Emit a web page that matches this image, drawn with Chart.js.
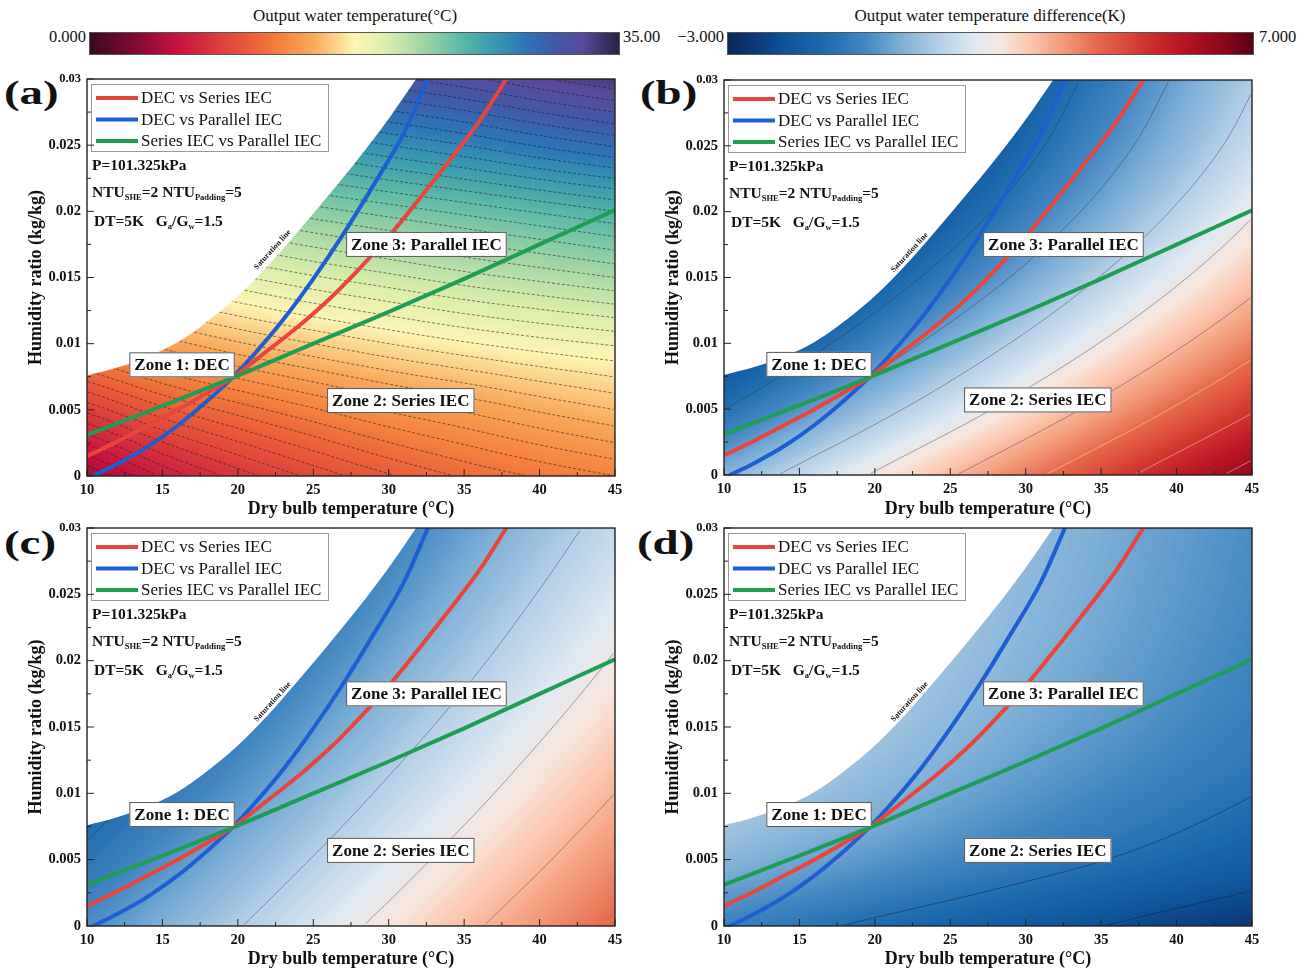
<!DOCTYPE html>
<html>
<head>
<meta charset="utf-8">
<title>IEC zone maps</title>
<script src="https://cdn.jsdelivr.net/npm/chart.js@4.4.1/dist/chart.umd.min.js"></script>
<style>
body { margin: 0; background: #fff; width: 1313px; height: 973px; position: relative; overflow: hidden; font-family: 'Liberation Serif', 'Times New Roman', serif; color: #111; }
canvas { position: absolute; }
.cbar { position: absolute; height: 23px; border: 1px solid #555; box-sizing: border-box; }
.cbtitle { position: absolute; width: 440px; text-align: center; font-size: 17px; top: 6px; }
.cblab { position: absolute; font-size: 16.5px; top: 27px; }
.plab { position: absolute; font-weight: bold; font-size: 34px; line-height: 1; transform: scaleX(1.38); transform-origin: left top; }
</style>
</head>
<body>
<div class="cbtitle" style="left:135px">Output water temperature(°C)</div>
<div class="cbar" id="barTemp" style="left:89px;top:32px;width:531px"></div>
<div class="cblab" style="left:10px;width:76px;text-align:right">0.000</div>
<div class="cblab" style="left:623px">35.00</div>

<div class="cbtitle" style="left:770px">Output water temperature difference(K)</div>
<div class="cbar" id="barDiff" style="left:727px;top:32px;width:527px"></div>
<div class="cblab" style="left:650px;width:74px;text-align:right">−3.000</div>
<div class="cblab" style="left:1259px">7.000</div>

<div class="plab" style="left:4px;top:76px">(a)</div>
<div class="plab" style="left:640px;top:76px">(b)</div>
<div class="plab" style="left:4px;top:526px">(c)</div>
<div class="plab" style="left:637px;top:526px">(d)</div>

<canvas id="chartA" width="650" height="470" style="left:0;top:60px"></canvas>
<canvas id="chartB" width="650" height="470" style="left:650px;top:60px"></canvas>
<canvas id="chartC" width="650" height="470" style="left:0;top:510px"></canvas>
<canvas id="chartD" width="650" height="470" style="left:650px;top:510px"></canvas>

<script>
// grid of the colour fields: dry bulb temperature (columns) x humidity ratio (rows)
const temps = [10, 15, 20, 25, 30, 35, 40, 45];
const hums = [0, 0.005, 0.01, 0.015, 0.02, 0.025, 0.03];

// (a) output water temperature, degC
const fieldA = [
    [4.2, 6.4, 8.0, 9.3, 10.4, 11.3, 12.0, 12.6],
    [8.6, 10.3, 11.5, 12.5, 13.4, 14.1, 14.8, 15.4],
    [13.0, 14.3, 15.3, 16.1, 16.8, 17.4, 17.9, 18.3],
    [17.2, 18.1, 18.8, 19.5, 20.1, 20.7, 21.2, 21.7],
    [21.0, 21.6, 22.2, 22.8, 23.4, 24.0, 24.6, 25.2],
    [25.0, 25.5, 26.0, 26.6, 27.3, 28.0, 28.8, 29.5],
    [29.0, 29.5, 30.0, 30.6, 31.3, 32.0, 32.8, 33.5],
];
// (b), (c), (d) output water temperature difference, K
const fieldB = [
    [0.39, 1.24, 2.08, 2.93, 3.78, 4.63, 5.47, 6.32],
    [-1.01, -0.16, 0.69, 1.53, 2.38, 3.23, 4.08, 4.92],
    [-2.21, -1.36, -0.51, 0.34, 1.18, 2.03, 2.88, 3.73],
    [-3.2, -2.36, -1.51, -0.66, 0.18, 1.03, 1.88, 2.73],
    [-4.0, -3.16, -2.31, -1.46, -0.61, 0.23, 1.08, 1.93],
    [-4.6, -3.75, -2.91, -2.06, -1.21, -0.36, 0.48, 1.33],
    [-5.0, -4.15, -3.31, -2.46, -1.61, -0.76, 0.08, 0.93],
];
const fieldC = [
    [-0.29, 0.34, 0.96, 1.59, 2.21, 2.84, 3.46, 4.09],
    [-0.85, -0.23, 0.40, 1.03, 1.65, 2.28, 2.90, 3.53],
    [-1.38, -0.75, -0.13, 0.50, 1.13, 1.75, 2.38, 3.00],
    [-1.86, -1.24, -0.61, 0.01, 0.64, 1.26, 1.89, 2.51],
    [-2.31, -1.69, -1.06, -0.44, 0.19, 0.81, 1.44, 2.06],
    [-2.73, -2.10, -1.48, -0.85, -0.23, 0.40, 1.03, 1.65],
    [-3.10, -2.48, -1.85, -1.23, -0.60, 0.03, 0.65, 1.28],
];
const fieldD = [
    [-0.55, -0.84, -1.13, -1.41, -1.70, -1.99, -2.28, -2.56],
    [0.45, 0.17, -0.12, -0.41, -0.70, -0.98, -1.27, -1.56],
    [1.03, 0.74, 0.45, 0.17, -0.12, -0.41, -0.70, -0.98],
    [1.36, 1.07, 0.79, 0.50, 0.21, -0.07, -0.36, -0.65],
    [1.55, 1.26, 0.98, 0.69, 0.40, 0.11, -0.17, -0.46],
    [1.66, 1.37, 1.09, 0.80, 0.51, 0.22, -0.06, -0.35],
    [1.72, 1.43, 1.14, 0.86, 0.57, 0.28, 0.00, -0.29],
];

// boundary curves
const satT = [10, 12, 14, 16, 18, 20, 22, 24, 26, 28, 30, 32];
const satW = [0.0076, 0.0082, 0.0090, 0.0101, 0.0117, 0.0136, 0.0159, 0.0185, 0.0212, 0.0240, 0.0270, 0.0303];
const redT = [10, 12, 14, 16, 18, 19.6, 22, 24, 26, 28, 30, 32, 34, 36, 37.8];
const redW = [0.0015, 0.0026, 0.0038, 0.0050, 0.0063, 0.0074, 0.0095, 0.0113, 0.0133, 0.0156, 0.0181, 0.0209, 0.0238, 0.0268, 0.0300];
const blueT = [10.4, 12, 14, 16, 18, 19.6, 21, 23, 25, 27, 29, 31, 32.6];
const blueW = [0, 0.0009, 0.0022, 0.0038, 0.0057, 0.0074, 0.0091, 0.0118, 0.0149, 0.0183, 0.0220, 0.0259, 0.0300];
const greenT = [10, 15, 19.6, 25, 30, 35, 40, 45];
const greenW = [0.0031, 0.0053, 0.0074, 0.0100, 0.0124, 0.0149, 0.0175, 0.0201];

const yTickLabels = ['0', '0.005', '0.01', '0.015', '0.02', '0.025', '0.03'];
const zoneNames = ['Zone 1: DEC', 'Zone 2: Series IEC', 'Zone 3: Parallel IEC'];

const tempStops = [
    [0.00, '#3a0a22'], [0.08, '#7c0a32'], [0.16, '#c4103e'], [0.23, '#d9363c'],
    [0.30, '#e95c3a'], [0.36, '#f5823e'], [0.42, '#f9a85a'], [0.47, '#fcd690'],
    [0.50, '#fdf5b4'], [0.56, '#dbeeab'], [0.63, '#a0d5a4'], [0.70, '#5db9a8'],
    [0.76, '#3a9bae'], [0.82, '#2d76b8'], [0.88, '#4159a8'], [0.93, '#5a4a9b'], [1.00, '#282246'],
];
const diffStops = [
    [0.00, '#08285a'], [0.05, '#0b3a78'], [0.11, '#0f5399'], [0.18, '#1c69ad'],
    [0.26, '#4286c0'], [0.33, '#7cafd6'], [0.40, '#b2cfe7'], [0.47, '#dfe9f3'],
    [0.52, '#f8e6de'], [0.57, '#fbc9b0'], [0.63, '#f4a080'], [0.70, '#e76b4e'],
    [0.78, '#d43c31'], [0.86, '#bb1523'], [0.94, '#8f081c'], [1.00, '#5a0013'],
];

const RED = '#e8453c', BLUE = '#1d5fd1', GREEN = '#1f9d55';
const SERIF = '"Liberation Serif", "Times New Roman", serif';

function gradientCss(stops) {
    return 'linear-gradient(to right, ' + stops.map(s => s[1] + ' ' + (s[0] * 100) + '%').join(', ') + ')';
}
document.getElementById('barTemp').style.background = gradientCss(tempStops);
document.getElementById('barDiff').style.background = gradientCss(diffStops);

function hexRgb(h) {
    return [parseInt(h.slice(1, 3), 16), parseInt(h.slice(3, 5), 16), parseInt(h.slice(5, 7), 16)];
}
function makeLut(stops) {
    const lut = new Uint8ClampedArray(256 * 3);
    for (let i = 0; i < 256; i++) {
        const f = i / 255;
        let k = 0;
        while (k < stops.length - 2 && f > stops[k + 1][0]) k++;
        const c0 = hexRgb(stops[k][1]), c1 = hexRgb(stops[k + 1][1]);
        const u = Math.max(0, Math.min(1, (f - stops[k][0]) / (stops[k + 1][0] - stops[k][0])));
        for (let c = 0; c < 3; c++) lut[i * 3 + c] = c0[c] + (c1[c] - c0[c]) * u;
    }
    return lut;
}

function cellPos(arr, v) {
    let i = 0;
    while (i < arr.length - 2 && v > arr[i + 1]) i++;
    const f = (v - arr[i]) / (arr[i + 1] - arr[i]);
    return [i, Math.max(0, Math.min(1, f))];
}
// Catmull-Rom between p1 and p2
function cr(p0, p1, p2, p3, t) {
    return 0.5 * (2 * p1 + (p2 - p0) * t + (2 * p0 - 5 * p1 + 4 * p2 - p3) * t * t + (3 * p1 - p0 - 3 * p2 + p3) * t * t * t);
}
function at(arr, k) {
    const n = arr.length;
    if (k < 0) return 2 * arr[0] - arr[1];
    if (k >= n) return 2 * arr[n - 1] - arr[n - 2];
    return arr[k];
}
function sampleGrid(grid, t, h) {
    const [i, fx] = cellPos(temps, t);
    const [j, fy] = cellPos(hums, h);
    const col = [];
    for (let k = j - 1; k <= j + 2; k++) {
        col.push(k < 0 || k >= grid.length ? null : cr(at(grid[k], i - 1), grid[k][i], grid[k][i + 1], at(grid[k], i + 2), fx));
    }
    if (col[0] === null) col[0] = 2 * col[1] - col[2];
    if (col[3] === null) col[3] = 2 * col[2] - col[1];
    return cr(col[0], col[1], col[2], col[3], fy);
}
function interp(xs, ys, v) {
    const [i, f] = cellPos(xs, v);
    return ys[i] + (ys[i + 1] - ys[i]) * f;
}
function pts(xs, ys) {
    return xs.map((v, i) => ({ x: v, y: ys[i] }));
}
function levelsFrom(start, stop, step) {
    const out = [];
    for (let v = start; v <= stop + 1e-9; v += step) out.push(+v.toFixed(2));
    return out;
}

const panels = [
    { el: 'chartA', pad: { left: 22, top: 19, right: 35, bottom: 6 }, xh: 48, grid: fieldA, stops: tempStops, min: 0, max: 35,
      levels: levelsFrom(4.9, 33.6, 0.7), dash: [3, 2], lineWidth: 0.8, lineColor: 'rgba(25,25,25,0.72)', lightFrom: 99,
      satLabel: [22.3, 0.0171] },
    { el: 'chartB', pad: { left: 9, top: 20, right: 48, bottom: 6 }, xh: 49, grid: fieldB, stops: diffStops, min: -3, max: 7,
      levels: [-1, 0, 1, 2, 3, 4, 5, 6], dash: [], lineWidth: 0.6, lineColor: 'rgba(45,45,45,0.7)', lightColor: 'rgba(255,236,230,0.8)', lightFrom: 4,
      satLabel: [22.3, 0.0169] },
    { el: 'chartC', pad: { left: 22, top: 18, right: 35, bottom: 6 }, xh: 48, grid: fieldC, stops: diffStops, min: -3, max: 7,
      levels: [-1, 1, 2, 3], dash: [], lineWidth: 0.6, lineColor: 'rgba(45,45,45,0.7)', lightFrom: 99,
      satLabel: [22.3, 0.0169] },
    { el: 'chartD', pad: { left: 9, top: 18, right: 48, bottom: 6 }, xh: 48, grid: fieldD, stops: diffStops, min: -3, max: 7,
      levels: [-2, -1], dash: [], lineWidth: 0.7, lineColor: 'rgba(20,30,60,0.7)', lightFrom: 99,
      satLabel: [22.3, 0.0169] },
];
// zone label anchors (dry bulb, humidity)
const zoneAnchor = [[16.3, 0.0084], [30.8, 0.0057], [32.5, 0.0175]];

function drawField(chart, pn) {
    const { ctx, chartArea: a, scales: { x, y } } = chart;
    const w = Math.round(a.right - a.left), h = Math.round(a.bottom - a.top);
    const lut = makeLut(pn.stops);
    const off = document.createElement('canvas');
    off.width = w; off.height = h;
    const octx = off.getContext('2d');
    const img = octx.createImageData(w, h);
    const vals = new Float32Array(w * h);
    const tv = [], hv = [];
    for (let i = 0; i < w; i++) tv.push(x.getValueForPixel(a.left + i + 0.5));
    for (let j = 0; j < h; j++) hv.push(y.getValueForPixel(a.top + j + 0.5));
    for (let j = 0; j < h; j++) {
        for (let i = 0; i < w; i++) {
            const v = sampleGrid(pn.grid, tv[i], hv[j]);
            vals[j * w + i] = v;
            const f = Math.max(0, Math.min(1, (v - pn.min) / (pn.max - pn.min)));
            const k = Math.round(f * 255) * 3, o = (j * w + i) * 4;
            img.data[o] = lut[k]; img.data[o + 1] = lut[k + 1]; img.data[o + 2] = lut[k + 2]; img.data[o + 3] = 255;
        }
    }
    octx.putImageData(img, 0, 0);
    ctx.drawImage(off, a.left, a.top);

    // iso-lines traced column by column on the sampled field
    ctx.save();
    ctx.beginPath();
    ctx.rect(a.left, a.top, a.right - a.left, a.bottom - a.top);
    ctx.clip();
    ctx.lineWidth = pn.lineWidth;
    ctx.setLineDash(pn.dash);
    for (const lv of pn.levels) {
        ctx.strokeStyle = lv >= pn.lightFrom ? pn.lightColor : pn.lineColor;
        ctx.beginPath();
        let pen = false;
        for (let i = 0; i < w; i += 2) {
            let py = null;
            for (let j = h - 1; j > 0; j--) {
                const d0 = vals[j * w + i] - lv, d1 = vals[(j - 1) * w + i] - lv;
                if (d0 === 0 || d0 * d1 < 0) { py = a.top + j + 0.5 - d0 / (d0 - d1); break; }
            }
            if (py === null) { pen = false; continue; }
            const px = a.left + i + 0.5;
            if (pen) ctx.lineTo(px, py); else { ctx.moveTo(px, py); pen = true; }
        }
        ctx.stroke();
    }
    ctx.restore();
}

function drawRich(ctx, x0, y0, parts) {
    let cx = x0;
    for (const p of parts) {
        ctx.font = p.sub ? 'bold 8.5px ' + SERIF : 'bold 15.5px ' + SERIF;
        ctx.fillText(p.t, cx, p.sub ? y0 + 5 : y0);
        cx += ctx.measureText(p.t).width;
    }
}

function drawAnnotations(chart, pn) {
    const { ctx, chartArea: a, scales: { x, y } } = chart;
    ctx.save();
    ctx.fillStyle = '#111';
    ctx.textBaseline = 'middle';

    // saturation line label along the curve
    const t0 = pn.satLabel[0];
    const x1 = x.getPixelForValue(t0 - 1), y1 = y.getPixelForValue(interp(satT, satW, t0 - 1));
    const x2 = x.getPixelForValue(t0 + 1), y2 = y.getPixelForValue(interp(satT, satW, t0 + 1));
    ctx.save();
    ctx.translate(x.getPixelForValue(t0), y.getPixelForValue(pn.satLabel[1]));
    ctx.rotate(Math.atan2(y2 - y1, x2 - x1));
    ctx.font = 'bold 8px ' + SERIF;
    ctx.textAlign = 'center';
    ctx.fillText('Saturation line', 0, 0);
    ctx.restore();

    // zone boxes
    ctx.font = 'bold 17px ' + SERIF;
    ctx.textAlign = 'center';
    zoneNames.forEach((name, k) => {
        const cx = x.getPixelForValue(zoneAnchor[k][0]), cy = y.getPixelForValue(zoneAnchor[k][1]);
        const tw = ctx.measureText(name).width + 10;
        ctx.fillStyle = '#fff';
        ctx.fillRect(cx - tw / 2, cy - 12.5, tw, 25);
        ctx.strokeStyle = '#555';
        ctx.lineWidth = 1;
        ctx.strokeRect(cx - tw / 2 + 0.5, cy - 12, tw - 1, 24);
        ctx.fillStyle = '#111';
        ctx.fillText(name, cx, cy + 1);
    });

    // legend
    const lx = a.left + 4, ly = a.top + 5;
    ctx.fillStyle = '#fff';
    ctx.fillRect(lx, ly, 237, 67);
    ctx.strokeStyle = '#999';
    ctx.strokeRect(lx + 0.5, ly + 0.5, 237, 67);
    ctx.textAlign = 'left';
    ctx.font = '17px ' + SERIF;
    chart.data.datasets.slice(0, 3).forEach((ds, k) => {
        const yy = ly + 14 + k * 21.5;
        ctx.strokeStyle = ds.borderColor;
        ctx.lineWidth = 4;
        ctx.beginPath();
        ctx.moveTo(lx + 5, yy);
        ctx.lineTo(lx + 47, yy);
        ctx.stroke();
        ctx.fillStyle = '#111';
        ctx.fillText(ds.label, lx + 50, yy + 1);
    });

    // operating conditions
    ctx.fillStyle = '#111';
    const px = a.left + 5;
    drawRich(ctx, px, a.top + 87, [{ t: 'P=101.325kPa' }]);
    drawRich(ctx, px, a.top + 114, [{ t: 'NTU' }, { t: 'SHE', sub: true }, { t: '=2 NTU' }, { t: 'Padding', sub: true }, { t: '=5' }]);
    drawRich(ctx, px + 2, a.top + 143, [{ t: 'DT=5K   G' }, { t: 'a', sub: true }, { t: '/G' }, { t: 'w', sub: true }, { t: '=1.5' }]);
    ctx.restore();
}

function drawFrame(chart) {
    const { ctx, chartArea: a, scales: { x, y } } = chart;
    ctx.save();
    ctx.strokeStyle = '#222';
    ctx.lineWidth = 1;
    for (let k = 0; k <= 14; k++) {
        const px = x.getPixelForValue(10 + k * 2.5), len = k % 2 ? 4 : 7;
        ctx.beginPath(); ctx.moveTo(px, a.bottom); ctx.lineTo(px, a.bottom - len); ctx.stroke();
    }
    for (let k = 0; k <= 12; k++) {
        const py = y.getPixelForValue(k * 0.0025), len = k % 2 ? 4 : 7;
        ctx.beginPath(); ctx.moveTo(a.left, py); ctx.lineTo(a.left + len, py); ctx.stroke();
    }
    ctx.lineWidth = 1.4;
    ctx.strokeRect(a.left, a.top, a.right - a.left, a.bottom - a.top);
    ctx.restore();
}

panels.forEach(pn => {
    const line = (label, xs, ys, color, order) => ({
        label, data: pts(xs, ys), borderColor: color, borderWidth: 4, pointRadius: 0,
        cubicInterpolationMode: 'monotone', fill: false, order,
    });
    new Chart(document.getElementById(pn.el), {
        type: 'line',
        data: {
            datasets: [
                line('DEC vs Series IEC', redT, redW, RED, 1),
                line('DEC vs Parallel IEC', blueT, blueW, BLUE, 2),
                line('Series IEC vs Parallel IEC', greenT, greenW, GREEN, 0),
                { label: 'Saturation line', data: pts(satT, satW), borderWidth: 0, borderColor: 'rgba(0,0,0,0)',
                  pointRadius: 0, cubicInterpolationMode: 'monotone', fill: 'end', backgroundColor: '#fff', order: 5 },
            ],
        },
        options: {
            responsive: false,
            animation: false,
            layout: { padding: pn.pad },
            plugins: { legend: { display: false }, tooltip: { enabled: false } },
            scales: {
                x: {
                    type: 'linear', min: 10, max: 45,
                    grid: { display: false, drawTicks: false, tickLength: 0 }, border: { display: false },
                    ticks: { stepSize: 5, padding: 6, color: '#111', font: { family: SERIF, weight: 'bold', size: 14.5 } },
                    title: { display: true, text: 'Dry bulb temperature (°C)', color: '#111', font: { family: SERIF, weight: 'bold', size: 18 } },
                    afterFit(s) { s.height = pn.xh; },
                },
                y: {
                    type: 'linear', min: 0, max: 0.03,
                    grid: { display: false, drawTicks: false, tickLength: 0 }, border: { display: false },
                    ticks: {
                        stepSize: 0.005, padding: 6, color: '#111',
                        font: c => ({ family: SERIF, weight: 'bold', size: c.tick && c.tick.value > 0.0299 ? 12.5 : 14.5 }),
                        callback: v => yTickLabels[Math.round(v / 0.005)],
                    },
                    title: { display: true, text: 'Humidity ratio (kg/kg)', color: '#111', font: { family: SERIF, weight: 'bold', size: 18 } },
                    afterFit(s) { s.width = 65; },
                },
            },
        },
        plugins: [{
            id: 'panel',
            beforeDatasetsDraw(chart) { drawField(chart, pn); },
            afterDatasetsDraw(chart) { drawAnnotations(chart, pn); },
            afterDraw(chart) { drawFrame(chart); },
        }],
    });
});
</script>
</body>
</html>
